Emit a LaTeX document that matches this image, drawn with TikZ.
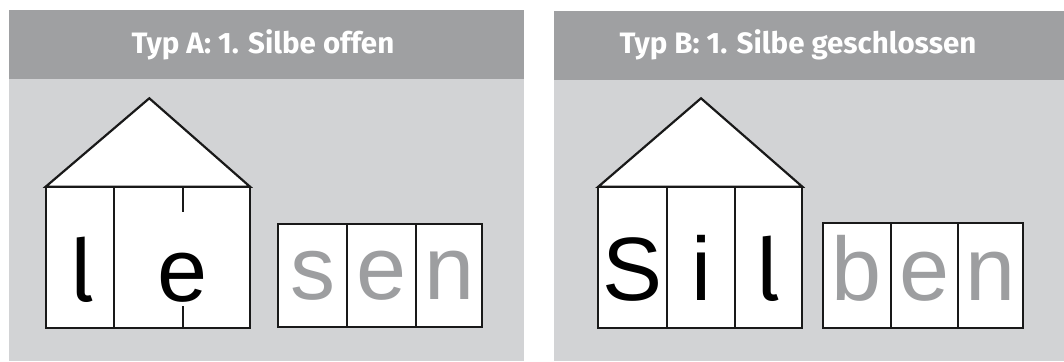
\documentclass[tikz,border=0pt]{standalone}
\usepackage{fontspec}
\setmainfont{Liberation Sans}
\newfontfamily\fira{Fira Sans}
\definecolor{headgrey}{RGB}{159,160,162}
\definecolor{bodygrey}{RGB}{210,211,213}
\definecolor{lettergrey}{RGB}{157,158,160}
\begin{document}
\begin{tikzpicture}[x=1pt,y=-1pt,
  wall/.style={draw=black!90,line width=2.2pt,fill=white},
  stroke/.style={draw=black!90,line width=2.2pt},
  letter/.style={anchor=base,inner sep=0pt,font=\fontsize{90}{90}\selectfont},
  lletter/.style={anchor=base,inner sep=0pt,font=\fira\fontsize{86}{86}\selectfont},
  title/.style={anchor=base,inner sep=0pt,text=white,font=\fira\bfseries\fontsize{29.5}{29.5}\selectfont}]
\useasboundingbox (0,0) rectangle (1064,361);
% panels
\fill[bodygrey] (9,10) rectangle (524,361);
\fill[headgrey] (9,10) rectangle (524,79);
\fill[bodygrey] (554,11) rectangle (1064,361);
\fill[headgrey] (554,11) rectangle (1064,80);
\node[title] (tA) at (263,53.5) {Typ A: 1. Silbe offen};
\node[title] (tB) at (798,53.5) {Typ B: 1. Silbe geschlossen};
% ---- Typ A house
\path[wall,line join=miter] (45.7,186.7) -- (149.3,98.3) -- (250,186.7) -- cycle;
\path[wall] (45.7,186.7) rectangle (250,327.7);
\draw[stroke] (114.3,186.7) -- (114.3,327.7);
\draw[stroke] (183,186.7) -- (183,211.7);
\draw[stroke] (183,306) -- (183,327.7);
\node[lletter] (A1) at (82,301) {l};
\node[letter] (A2) at (183,301) {e};
% sen
\path[wall] (277.7,224) rectangle (481.7,326.7);
\draw[stroke] (347.3,224) -- (347.3,326.7);
\draw[stroke] (415.7,224) -- (415.7,326.7);
\node[letter,text=lettergrey] (A3) at (312.5,299) {s};
\node[letter,text=lettergrey] (A4) at (381.5,299) {e};
\node[letter,text=lettergrey] (A5) at (449.5,299) {n};
% ---- Typ B house
\path[wall,line join=miter] (598.3,186.7) -- (701,98.3) -- (802.3,186.7) -- cycle;
\path[wall] (598.3,186.7) rectangle (802.3,327.7);
\draw[stroke] (666.7,186.7) -- (666.7,327.7);
\draw[stroke] (735,186.7) -- (735,327.7);
\node[letter] (B1) at (633,300) {S};
\node[letter] (B2) at (701,300) {i};
\node[lletter] (B3) at (768,300) {l};
% ben
\path[wall] (823.3,223.3) rectangle (1023.3,328.3);
\draw[stroke] (891,223.3) -- (891,328.3);
\draw[stroke] (958.3,223.3) -- (958.3,328.3);
\node[letter,text=lettergrey] (B4) at (857,300) {b};
\node[letter,text=lettergrey] (B5) at (924.6,300) {e};
\node[letter,text=lettergrey] (B6) at (991,300) {n};
\end{tikzpicture}
\end{document}
